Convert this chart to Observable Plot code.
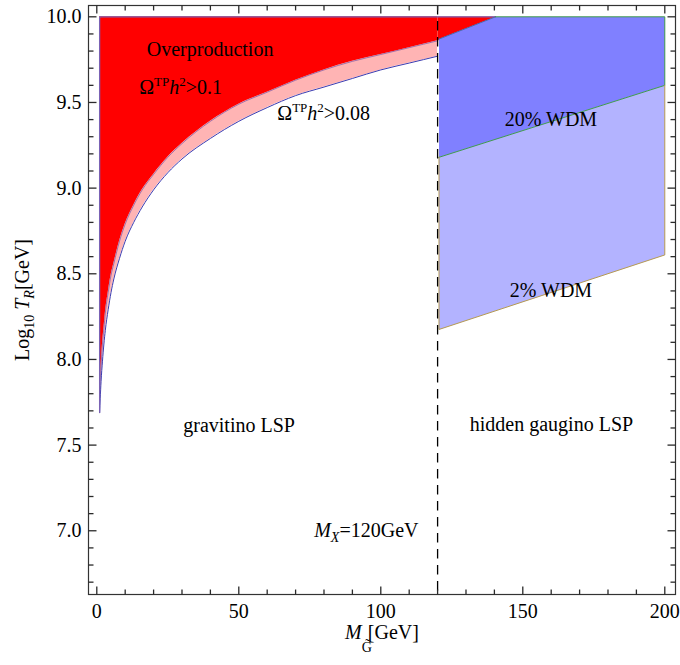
<!DOCTYPE html>
<html>
<head>
<meta charset="utf-8">
<script src="https://cdn.jsdelivr.net/npm/d3@7"></script>
<script src="https://cdn.jsdelivr.net/npm/@observablehq/plot@0.6"></script>
<style>
  html, body { margin: 0; padding: 0; background: #fff; }
  #chart svg { display: block; }
</style>
</head>
<body>
<div id="chart"></div>
<script>
// ---------- data ----------
// gravitino mass M (GeV) along the thermal-production bound curves
const mG = [1, 1.2, 1.5, 2, 2.5, 3, 4, 5, 6, 8, 10, 13, 16, 20, 25, 30, 40, 50, 60, 70, 80, 90, 100, 110, 120];
// log10 T_R on the curve Omega^TP h^2 = 0.08
const logTR008 = [7.69, 7.77, 7.87, 7.99, 8.09, 8.17, 8.29, 8.39, 8.47, 8.59, 8.69, 8.80, 8.89, 8.99, 9.09, 9.17, 9.29, 9.39, 9.47, 9.54, 9.59, 9.64, 9.69, 9.73, 9.77];
// log10 T_R on the curve Omega^TP h^2 = 0.1
const logTR01 = [7.79, 7.87, 7.96, 8.09, 8.18, 8.27, 8.39, 8.49, 8.56, 8.69, 8.79, 8.90, 8.99, 9.08, 9.18, 9.26, 9.39, 9.49, 9.56, 9.63, 9.69, 9.74, 9.78, 9.82, 9.86];
const logTRmax = 10.0;

// overproduction wedge right of M_X
const wedgeM = [120, 120.5, 140.4, 120];
const wedgeT = [9.86, 9.87, 10.0, 10.0];
// 20% WDM region (hidden gaugino LSP)
const wdm20M = [120.5, 120.5, 140.4, 200, 200];
const wdm20T = [9.18, 9.87, 10.0, 10.0, 9.60];
// 2% WDM region
const wdm2M = [120.5, 120.5, 200, 200];
const wdm2T = [8.175, 9.18, 9.60, 8.61];

const mX = [120];

// axes
const xDomain = [-2.92, 203.77];
const yDomain = [6.628, 10.066];
const xMajorTicks = [0, 50, 100, 150, 200];
const xMinorTicks = [10, 20, 30, 40, 60, 70, 80, 90, 110, 120, 130, 140, 160, 170, 180, 190];
const yMajorTicks = [7.0, 7.5, 8.0, 8.5, 9.0, 9.5, 10.0];
const yMinorTicks = [6.7, 6.8, 6.9, 7.1, 7.2, 7.3, 7.4, 7.6, 7.7, 7.8, 7.9, 8.1, 8.2, 8.3, 8.4, 8.6, 8.7, 8.8, 8.9, 9.1, 9.2, 9.3, 9.4, 9.6, 9.7, 9.8, 9.9];

// annotations
const noteText = ["Overproduction", "Ω^{TP}*h*^{2}>0.1", "Ω^{TP}*h*^{2}>0.08", "20% WDM", "2% WDM", "gravitino LSP", "hidden gaugino LSP", "*M*_{*X*}=120GeV"];
const noteM = [39.9, 29.5, 79.9, 159.9, 159.9, 50.1, 160.1, 94.9];
const noteT = [9.774, 9.551, 9.395, 9.36, 8.363, 7.576, 7.58, 6.963];

const xLabel = "*M*_{G̃}[GeV]";
const yLabel = "Log_{10} *T*_{*R*}[GeV]";

// ---------- styles ----------
const red = "#ff0000";
const pink = "#ffb4b4";
const darkBlue = "#8080ff";
const lightBlue = "#b3b3ff";
const frameColor = "#333333";
const tickColor = "#2a2a2a";

const curveRows = mG.map((m, i) => ({m, lo: logTR008[i], hi: logTR01[i], top: logTRmax}));
const poly = (ms, ts) => ms.map((m, i) => ({m, t: ts[i]}));
const closed = (ms, ts) => poly([...ms, ms[0]], [...ts, ts[0]]);
const notes = noteText.map((s, i) => ({s, m: noteM[i], t: noteT[i]}));

// inward tick glyphs (pixel lengths), drawn as custom dot symbols anchored on the frame
const tickSymbol = (dx, dy) => ({draw(ctx) { ctx.moveTo(0, 0); ctx.lineTo(dx, dy); }});
const tickMarks = (values, channel, anchor, len) => {
  const dir = {bottom: [0, -len], top: [0, len], left: [len, 0], right: [-len, 0]}[anchor];
  return Plot.dot(values, {[channel]: d => d, frameAnchor: anchor, r: 5, symbol: tickSymbol(...dir), fill: "none", stroke: tickColor, strokeWidth: 1.3});
};

const chart = Plot.plot({
  width: 680,
  height: 665,
  marginLeft: 88,
  marginRight: 5,
  marginTop: 5,
  marginBottom: 71,
  x: {domain: xDomain, axis: null},
  y: {domain: yDomain, axis: null},
  style: {fontFamily: "'Liberation Serif', 'Times New Roman', serif", fontSize: "20px", color: "#000", background: "#fff", overflow: "visible"},
  marks: [
    // regions
    Plot.areaY(curveRows, {x: "m", y1: "lo", y2: "hi", fill: pink, curve: "monotone-x"}),
    Plot.areaY(curveRows, {x: "m", y1: "hi", y2: "top", fill: red, curve: "monotone-x"}),
    Plot.line(closed(wedgeM, wedgeT), {x: "m", y: "t", fill: red, stroke: red, strokeWidth: 0.5}),
    Plot.line(closed(wdm2M, wdm2T), {x: "m", y: "t", fill: lightBlue, stroke: "none"}),
    Plot.line(closed(wdm20M, wdm20T), {x: "m", y: "t", fill: darkBlue, stroke: "none"}),
    // outlines
    Plot.line(curveRows, {x: "m", y: "hi", stroke: "#6a4aa5", strokeWidth: 0.8, strokeOpacity: 0.8, curve: "monotone-x"}),
    Plot.line(curveRows, {x: "m", y: "lo", stroke: "#3b3bb0", strokeWidth: 1, curve: "monotone-x"}),
    Plot.line(poly([mG[0], mG[0], wedgeM[2]], [logTR008[0], logTRmax, logTRmax]), {x: "m", y: "t", stroke: "#7a62b4", strokeWidth: 1.3}),
    Plot.line(poly([wdm20M[1], wdm20M[2]], [wdm20T[1], wdm20T[2]]), {x: "m", y: "t", stroke: "#4a66ad", strokeWidth: 1}),
    Plot.line(poly([wdm20M[2], wdm20M[3], wdm20M[4], wdm20M[0]], [wdm20T[2], wdm20T[3], wdm20T[4], wdm20T[0]]), {x: "m", y: "t", stroke: "#3f9a4c", strokeWidth: 1}),
    Plot.line(poly([wdm2M[1], wdm2M[0], wdm2M[3], wdm2M[2]], [wdm2T[1], wdm2T[0], wdm2T[3], wdm2T[2]]), {x: "m", y: "t", stroke: "#b59a52", strokeWidth: 1}),
    // M_X divider
    Plot.ruleX(mX, {stroke: "#000", strokeWidth: 1.3, strokeDasharray: "9.5,6.5"}),
    // frame & ticks
    Plot.frame({stroke: frameColor, strokeWidth: 1.2}),
    tickMarks(xMajorTicks, "x", "bottom", 8), tickMarks(xMinorTicks, "x", "bottom", 5),
    tickMarks(xMajorTicks, "x", "top", 8), tickMarks(xMinorTicks, "x", "top", 5),
    tickMarks(yMajorTicks, "y", "left", 8), tickMarks(yMinorTicks, "y", "left", 5),
    tickMarks(yMajorTicks, "y", "right", 8), tickMarks(yMinorTicks, "y", "right", 5),
    // tick labels
    Plot.text(xMajorTicks, {x: d => d, frameAnchor: "bottom", textAnchor: "middle", lineAnchor: "bottom", dy: 23.5, text: d => String(d), fontSize: 20, fill: "#000"}),
    Plot.text(yMajorTicks, {y: d => d, frameAnchor: "left", textAnchor: "end", lineAnchor: "middle", dx: -7, text: d => d.toFixed(1), fontSize: 20, fill: "#000"}),
    // axis titles
    Plot.text([xLabel], {frameAnchor: "bottom", textAnchor: "middle", lineAnchor: "bottom", dy: 44.5, text: d => d, fontSize: 20, fill: "#000"}),
    Plot.text([yLabel], {frameAnchor: "left", textAnchor: "middle", rotate: -90, lineAnchor: "bottom", dx: -60, text: d => d, fontSize: 20, fill: "#000"}),
    // annotations
    Plot.text(notes, {x: "m", y: "t", text: "s", textAnchor: "middle", lineAnchor: "bottom", fontSize: 20, fill: "#000"})
  ]
});

// ---------- rich text (sub/superscripts, italics) ----------
function parseMarkup(s) {
  const segs = [];
  let italic = false, mode = "n", buf = "";
  const flush = () => { if (buf) segs.push({text: buf, italic, mode}); buf = ""; };
  for (let i = 0; i < s.length; i++) {
    const c = s[i];
    if (c === "*") { flush(); italic = !italic; }
    else if ((c === "^" || c === "_") && s[i + 1] === "{") { flush(); mode = c === "^" ? "sup" : "sub"; i++; }
    else if (c === "}" && mode !== "n") { flush(); mode = "n"; }
    else buf += c;
  }
  flush();
  return segs;
}
function richify(textEl, opts) {
  const segs = parseMarkup(textEl.textContent);
  while (textEl.firstChild) textEl.removeChild(textEl.firstChild);
  let cur = 0, prevMode = "n";
  for (const seg of segs) {
    const ts = document.createElementNS("http://www.w3.org/2000/svg", "tspan");
    const target = seg.mode === "sup" ? opts.supShift : seg.mode === "sub" ? opts.subShift : 0;
    if (target !== cur) { ts.setAttribute("dy", target - cur); cur = target; }
    if (seg.mode !== "n") ts.setAttribute("font-size", seg.mode === "sup" ? opts.supSize : opts.subSize);
    if (seg.mode === "n" && prevMode === "sub" && opts.afterSubDx) ts.setAttribute("dx", opts.afterSubDx);
    if (seg.italic) ts.setAttribute("font-style", "italic");
    ts.textContent = seg.text;
    textEl.appendChild(ts);
    prevMode = seg.mode;
  }
}
const defaultRich = {supShift: -8, supSize: 13, subShift: 5, subSize: 14, afterSubDx: 0};
const richOverrides = new Map([[xLabel, {subShift: 13, subSize: 14, afterSubDx: -4}]]);
chart.querySelectorAll("text").forEach(t => {
  const s = t.textContent;
  if (!/\^\{|_\{|\*/.test(s)) return;
  richify(t, {...defaultRich, ...(richOverrides.get(s) || {})});
});

document.getElementById("chart").appendChild(chart);
</script>
</body>
</html>
